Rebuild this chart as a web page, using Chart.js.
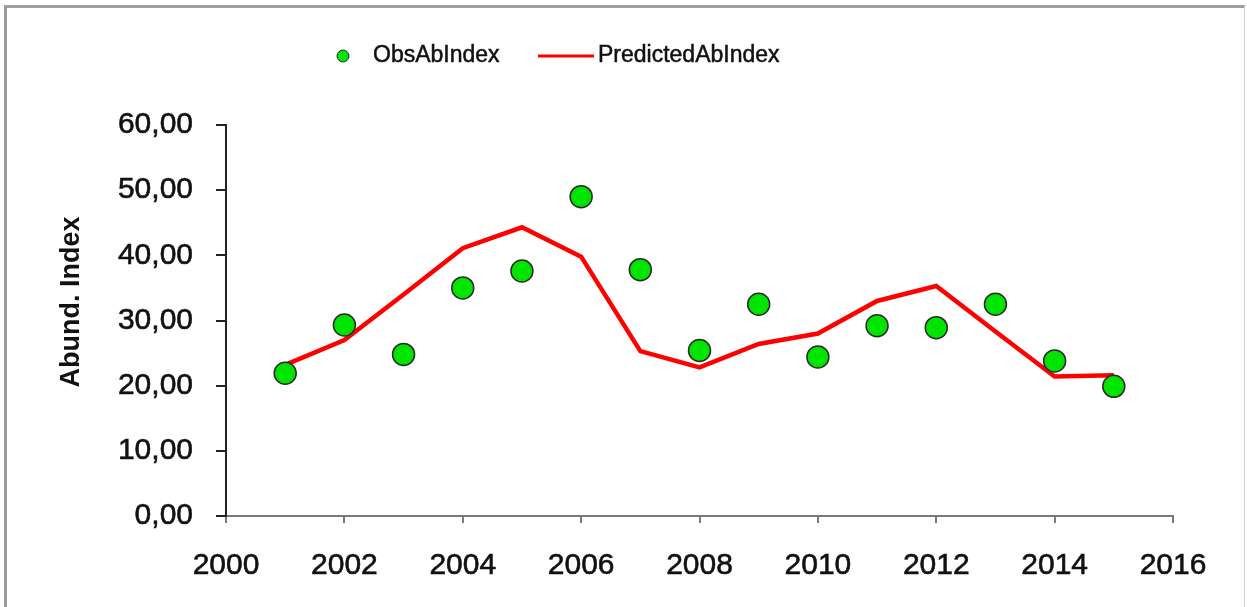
<!DOCTYPE html>
<html>
<head>
<meta charset="utf-8">
<script src="https://cdn.jsdelivr.net/npm/chart.js@4.4.1/dist/chart.umd.min.js"></script>
<style>
    html, body { margin: 0; padding: 0; background: #ffffff; overflow: hidden; }
    #wrap { position: relative; width: 1247px; height: 607px; }
    #frame {
        position: absolute; left: 4px; top: 5px; width: 1237px; height: 700px;
        border-left: 3px solid #9a9a9a; border-top: 3px solid #a0a0a0; border-right: 1px solid #d0d0d0;
        pointer-events: none;
    }
    canvas { position: absolute; left: 0; top: 0; }
</style>
</head>
<body>
<div id="wrap">
    <canvas id="abIndexChart" width="1247" height="607"></canvas>
    <div id="frame"></div>
</div>
<script>
// Años y series
const years = [2001, 2002, 2003, 2004, 2005, 2006, 2007, 2008, 2009, 2010, 2011, 2012, 2013, 2014, 2015];
const obsAbIndex = [21.9, 29.3, 24.8, 35.0, 37.6, 49.0, 37.8, 25.4, 32.5, 24.4, 29.2, 28.9, 32.5, 23.8, 19.9];
const predictedAbIndex = [23.2, 27.0, 34.0, 41.1, 44.3, 39.8, 25.3, 22.8, 26.4, 28.0, 33.0, 35.3, 28.3, 21.4, 21.6];

// Marcas de los ejes
const xTickValues = [2000, 2002, 2004, 2006, 2008, 2010, 2012, 2014, 2016];
const yTickValues = [0, 10, 20, 30, 40, 50, 60];

const fontFamily = '"Liberation Sans", Arial, sans-serif';
const colors = {
    obsFill: '#00e400',
    obsBorder: '#2a2a2a',
    predicted: '#ff0000',
    yAxis: '#222222',
    xAxis: '#7a7a7a',
    text: '#111111'
};

// Leyenda superior y título del eje Y dibujados a mano
const extrasPlugin = {
    id: 'extras',
    afterDraw(chart) {
        const ctx = chart.ctx;
        const obs = chart.data.datasets[0];
        const pred = chart.data.datasets[1];
        const legendY = 56;

        ctx.save();
        ctx.font = '23px ' + fontFamily;
        ctx.textBaseline = 'middle';
        ctx.textAlign = 'left';
        ctx.lineJoin = 'round';

        // ObsAbIndex
        ctx.beginPath();
        ctx.arc(343, legendY, 6, 0, Math.PI * 2);
        ctx.fillStyle = obs.backgroundColor;
        ctx.fill();
        ctx.lineWidth = 1;
        ctx.strokeStyle = obs.borderColor;
        ctx.stroke();
        ctx.fillStyle = colors.text;
        ctx.strokeStyle = colors.text;
        ctx.lineWidth = 0.5;
        ctx.fillText(obs.label, 373, legendY);
        ctx.strokeText(obs.label, 373, legendY);

        // PredictedAbIndex
        ctx.beginPath();
        ctx.moveTo(538, legendY);
        ctx.lineTo(594, legendY);
        ctx.strokeStyle = pred.borderColor;
        ctx.lineWidth = 3;
        ctx.stroke();
        ctx.fillStyle = colors.text;
        ctx.strokeStyle = colors.text;
        ctx.lineWidth = 0.5;
        ctx.fillText(pred.label, 598, legendY);
        ctx.strokeText(pred.label, 598, legendY);

        // Título eje Y
        ctx.translate(72, 302);
        ctx.rotate(-Math.PI / 2);
        ctx.textAlign = 'center';
        ctx.font = 'bold 27px ' + fontFamily;
        ctx.fillText('Abund. Index', 0, 0);
        ctx.restore();
    }
};

const ctx = document.getElementById('abIndexChart').getContext('2d');

const abIndexChart = new Chart(ctx, {
    type: 'scatter',
    data: {
        datasets: [{
            label: 'ObsAbIndex',
            data: years.map((y, i) => ({ x: y, y: obsAbIndex[i] })),
            backgroundColor: colors.obsFill,
            borderColor: colors.obsBorder,
            borderWidth: 1.5,
            pointRadius: 11
        }, {
            label: 'PredictedAbIndex',
            data: years.map((y, i) => ({ x: y, y: predictedAbIndex[i] })),
            showLine: true,
            borderColor: colors.predicted,
            backgroundColor: colors.predicted,
            borderWidth: 4.5,
            pointRadius: 0,
            tension: 0
        }]
    },
    options: {
        responsive: false,
        animation: false,
        layout: {
            padding: { left: 0, top: 125, right: 74, bottom: 0 }
        },
        plugins: {
            legend: { display: false },
            tooltip: { enabled: false }
        },
        scales: {
            x: {
                type: 'linear',
                min: 2000,
                max: 2016,
                afterBuildTicks: function(scale) {
                    scale.ticks = xTickValues.map(v => ({ value: v }));
                },
                afterFit: function(scale) {
                    scale.height = 91;
                },
                grid: {
                    drawOnChartArea: false,
                    tickLength: 7,
                    color: colors.xAxis,
                    lineWidth: 2
                },
                border: { color: colors.xAxis, width: 2 },
                ticks: {
                    padding: 25,
                    maxRotation: 0,
                    color: colors.text,
                    textStrokeColor: colors.text,
                    textStrokeWidth: 0.6,
                    font: { family: fontFamily, size: 30 },
                    callback: function(value) {
                        return String(value);
                    }
                }
            },
            y: {
                min: 0,
                max: 60,
                afterBuildTicks: function(scale) {
                    scale.ticks = yTickValues.map(v => ({ value: v }));
                },
                afterFit: function(scale) {
                    scale.width = 226;
                },
                grid: {
                    drawOnChartArea: false,
                    tickLength: 10,
                    color: colors.yAxis,
                    lineWidth: 2
                },
                border: { color: colors.yAxis, width: 2 },
                ticks: {
                    padding: 23,
                    color: colors.text,
                    textStrokeColor: colors.text,
                    textStrokeWidth: 0.6,
                    font: { family: fontFamily, size: 30 },
                    callback: function(value) {
                        return value.toFixed(2).replace('.', ',');
                    }
                }
            }
        }
    },
    plugins: [extrasPlugin]
});
</script>
</body>
</html>
